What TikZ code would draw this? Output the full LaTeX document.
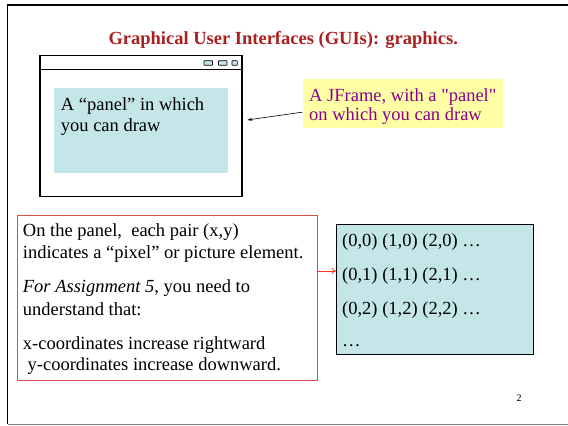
\documentclass[tikz,border=0pt]{standalone}
\usepackage{fontspec}
\setmainfont{Liberation Serif}
\newfontfamily\noligfont{Liberation Serif}[Ligatures=TeXOff]
\usetikzlibrary{arrows.meta}
\definecolor{titlered}{RGB}{170,32,32}
\definecolor{panelcyan}{RGB}{196,230,232}
\definecolor{noteyellow}{RGB}{255,255,165}
\definecolor{notepurple}{RGB}{140,0,140}
\definecolor{boxred}{RGB}{208,84,64}
\definecolor{arrowred}{RGB}{240,60,30}
\newcommand{\strq}{{\noligfont\symbol{34}}}
\tikzset{
  txt/.style={anchor=base west, inner sep=0pt, font=\fontsize{18.5}{21.7}\selectfont},
  boxnode/.style={anchor=north west, inner sep=0pt, outer sep=0pt},
  winbtn/.style={draw=black, fill=panelcyan, line width=0.6pt, rounded corners=0.4pt},
}
\begin{document}
\begin{tikzpicture}[x=1pt,y=-1pt]
\useasboundingbox (0,0) rectangle (568,426);
% page frame
\draw[line width=1.8pt] (7.5,424) -- (7.5,4.8) -- (568,4.8);
\draw[gray, line width=1.2pt] (7.5,424.3) -- (568,424.3);
% title
\node[txt, font=\bfseries\fontsize{18.5}{22}\selectfont, text=titlered] (title) at (108.3,44.3) {Graphical User Interfaces (GUIs): graphics.};
% window
\node[boxnode, draw=black, line width=1.1pt, minimum width=202pt, minimum height=141pt] (win) at (40,55.5) {};
\draw[line width=0.9pt] (win.north west) ++(0,13.5) coordinate (tb) -- (tb -| win.east);
\node[boxnode, winbtn, minimum width=8.5pt, minimum height=4.5pt] (b1) at (204,60.7) {};
\node[boxnode, winbtn, minimum width=8.5pt, minimum height=4.5pt] (b2) at (218.5,60.7) {};
\node[boxnode, winbtn, minimum width=5.3pt, minimum height=4.5pt] (b3) at (232,60.7) {};
% panel
\node[boxnode, fill=panelcyan, minimum width=174pt, minimum height=84.5pt] (panel) at (54,88) {};
\node[txt] (p1) at (60.7,110) {A “panel” in which};
\node[txt] (p2) at (60.7,131.7) {you can draw};
% yellow note
\node[boxnode, fill=noteyellow, minimum width=200.6pt, minimum height=49pt] (note) at (302.7,79) {};
\node[txt, text=notepurple] (n1) at (309,101) {A JFrame, with a \strq panel\strq};
\node[txt, text=notepurple] (n2) at (309,120.3) {on which you can draw};
\draw[-{Stealth[length=5pt,width=3pt]}, line width=0.6pt] ([yshift=-8.6pt]note.west) -- ([xshift=5.3pt,yshift=6pt]win.east);
% red box
\node[boxnode, draw=boxred, line width=0.9pt, minimum width=300pt, minimum height=165pt] (red) at (17.3,215) {};
\node[txt] (r1) at (22.7,236.7) {On the panel,\ \ each pair (x,y)};
\node[txt] (r2) at (22.7,258.3) {indicates a “pixel” or picture element.};
\node[txt] (r3) at (22.7,292.3) {\textit{For Assignment 5}, you need to};
\node[txt] (r4) at (22.7,315) {understand that:};
\node[txt] (r5) at (22.7,349) {x-coordinates increase rightward};
\node[txt] (r6) at (27.5,370.7) {y-coordinates increase downward.};
% grid box
\node[boxnode, draw=black, fill=panelcyan, line width=0.9pt, minimum width=197.3pt, minimum height=130pt] (grid) at (336,224.3) {};
\node[txt] (g1) at (342,246.7) {(0,0) (1,0) (2,0) …};
\node[txt] (g2) at (342,280) {(0,1) (1,1) (2,1) …};
\node[txt] (g3) at (342,314.3) {(0,2) (1,2) (2,2) …};
\node[txt] (g4) at (342,346.7) {…};
\draw[arrowred, line width=0.8pt, -{To[length=4.5pt,width=6.5pt]}] ([yshift=26.5pt]red.east) -- ([yshift=18.3pt]grid.west);
% page number
\node[anchor=base west, inner sep=0pt, font=\fontsize{10}{12}\selectfont] (pg) at (516.5,401) {2};
\end{tikzpicture}
\end{document}
